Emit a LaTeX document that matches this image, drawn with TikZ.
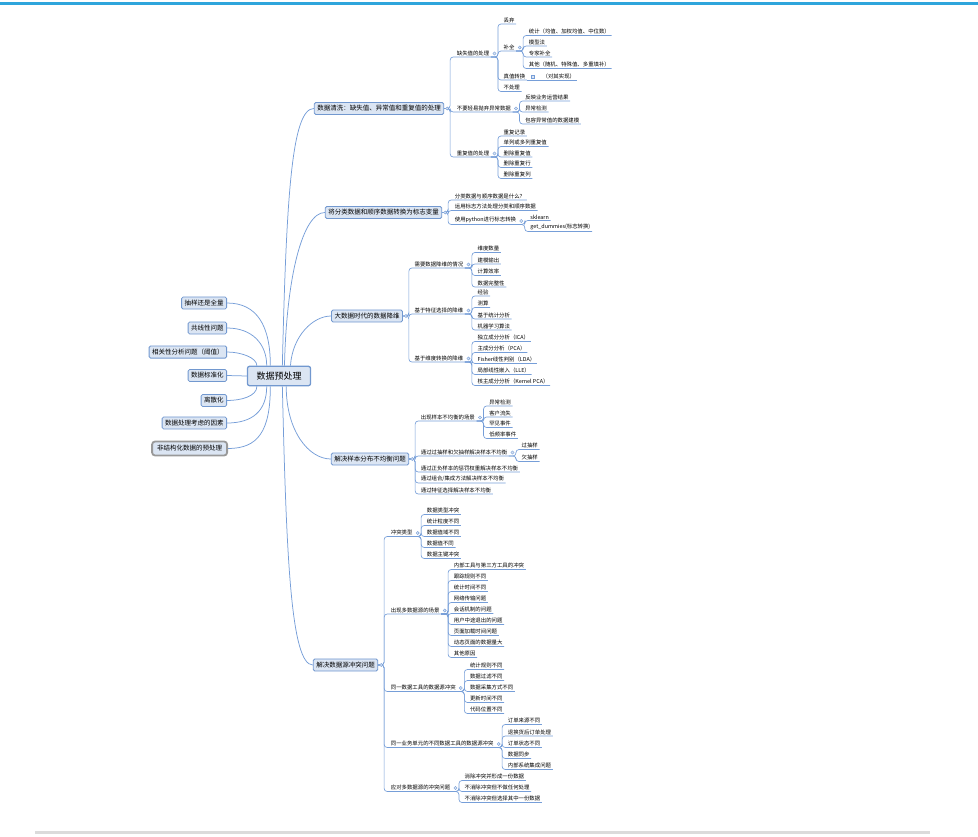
\documentclass[tikz,border=0pt]{standalone}
\usepackage{fontspec}
\setmainfont{Noto Sans CJK SC}
\usetikzlibrary{calc}
\definecolor{linkblue}{RGB}{118,158,216}
\definecolor{boxfill}{RGB}{219,229,243}
\definecolor{boxline}{RGB}{114,152,207}
\definecolor{barblue}{RGB}{46,165,220}

\begin{document}
\begin{tikzpicture}
[x=1pt,y=-1pt,
 root/.style={draw=boxline,fill=boxfill,line width=1.3pt,rounded corners=2pt,
   font=\fontsize{9}{10}\selectfont,inner xsep=9pt,inner ysep=5.5pt},
 topic/.style={draw=boxline,fill=boxfill,line width=0.8pt,rounded corners=1.5pt,
   font=\fontsize{6.5}{7}\selectfont,inner xsep=3pt,inner ysep=3pt},
 sub/.style={font=\fontsize{5.4}{6}\selectfont,anchor=south west,inner xsep=1.5pt,inner ysep=1.2pt},
 conn/.style={draw=linkblue,line width=0.65pt,rounded corners=3pt},
 curve/.style={draw=linkblue,line width=0.75pt},
 knob/.style={circle,draw=linkblue,fill=boxfill,line width=0.4pt,inner sep=0pt,minimum size=3.2pt},
]
\useasboundingbox (0,0) rectangle (978,836);
\fill[barblue] (0,2) rectangle (978,5);
\fill[black!14] (35,831) rectangle (930,834);

% centre
\node[root] (root) at (279,376) {数据预处理};

% left topics
\node[topic,anchor=east] (l1) at (227,303) {抽样还是全量};
\node[topic,anchor=east] (l2) at (227,328) {共线性问题};
\node[topic,anchor=east] (l3) at (227,352) {相关性分析问题（阈值）};
\node[topic,anchor=east] (l4) at (227,375.5) {数据标准化};
\node[topic,anchor=east] (l5) at (227,400.5) {离散化};
\node[topic,anchor=east] (l6) at (227,423) {数据处理考虑的因素};
\node[topic,anchor=east,draw=black!40,line width=1.8pt,rounded corners=3pt,inner xsep=5pt,inner ysep=4pt] (l7) at (228,448.5) {非结构化数据的预处理};

\draw[curve] (root.130) .. controls +(0,-40) and +(30,0) .. (l1.east);
\draw[curve] (root.140) .. controls +(0,-22) and +(25,0) .. (l2.east);
\draw[curve] (root.155) .. controls +(0,-8) and +(14,0) .. (l3.east);
\draw[curve] (root.west) -- (l4.east);
\draw[curve] (root.-155) .. controls +(0,10) and +(14,0) .. (l5.east);
\draw[curve] (root.-140) .. controls +(0,25) and +(25,0) .. (l6.east);
\draw[curve] (root.-130) .. controls +(0,45) and +(30,0) .. (l7.east);

% right topics
\node[topic] (t1) at (379,108.5) {数据清洗：缺失值、异常值和重复值的处理};
\node[topic] (t2) at (383.5,212.5) {将分类数据和顺序数据转换为标志变量};
\node[topic] (t3) at (367,316) {大数据时代的数据降维};
\node[topic] (t4) at (370,459) {解决样本分布不均衡问题};
\node[topic] (t5) at (345.5,665) {解决数据源冲突问题};

\draw[curve] (root.72) .. controls +(4,-170) and +(-22,0) .. (t1.west);
\draw[curve] (root.62) .. controls +(2,-90) and +(-22,0) .. (t2.west);
\draw[curve] (root.42) .. controls +(2,-30) and +(-18,0) .. (t3.west);
\draw[curve] (root.-55) .. controls +(0,45) and +(-22,0) .. (t4.west);
\draw[curve] (root.-72) .. controls +(4,170) and +(-22,0) .. (t5.west);

% branch 1
\coordinate (c1) at ($(t1.east)+(11,0)$);
\foreach \nm/\yy/\txt in {s11/57/缺失值的处理, s12/112/不要轻易抛弃异常数据, s13/157/重复值的处理}
{
\node[sub] (\nm) at (c1 |- 0,\yy) {\txt};
\draw[conn] (t1.east) -- ++(6,0) |- (\nm.south east);
}
\coordinate (c11) at ($(s11.south east)+(11,0)$);
\foreach \nm/\yy/\txt in {a1/24/丢弃, a2/51/补全, a3/80/真值转换, a4/91.5/不处理}
{
\node[sub] (\nm) at (c11 |- 0,\yy) {\txt};
\draw[conn] (s11.south east) -- ++(7,0) |- (\nm.south east);
}
\node[sub] (a3n) at ($(a3.south east)+(14,0)$) {（对其实现）};
\draw[conn] (a3.south east) -- (a3n.south east);
\node[knob,rectangle,minimum size=3pt] (a3k) at ($(a3.south east)+(6,-3.5)$) {};
\coordinate (c12) at ($(a2.south east)+(11,0)$);
\foreach \nm/\yy/\txt in {b1/35.5/统计（均值、加权均值、中位数）, b2/46/模型法, b3/57/专家补全, b4/68.5/其他（随机、特殊值、多重填补）}
{
\node[sub] (\nm) at (c12 |- 0,\yy) {\txt};
\draw[conn] (a2.south east) -- ++(7,0) |- (\nm.south east);
}
\coordinate (c13) at ($(s12.south east)+(11,0)$);
\foreach \nm/\yy/\txt in {d1/101/反映业务运营结果, d2/112/异常检测, d3/124/包容异常值的数据建模}
{
\node[sub] (\nm) at (c13 |- 0,\yy) {\txt};
\draw[conn] (s12.south east) -- ++(7,0) |- (\nm.south east);
}
\coordinate (c14) at ($(s13.south east)+(11,0)$);
\foreach \nm/\yy/\txt in {e1/136/重复记录, e2/146.5/单列或多列重复值, e3/157/删除重复值, e4/167.5/删除重复行, e5/178.5/删除重复列}
{
\node[sub] (\nm) at (c14 |- 0,\yy) {\txt};
\draw[conn] (s13.south east) -- ++(7,0) |- (\nm.south east);
}

% branch 2
\coordinate (c2) at ($(t2.east)+(11,0)$);
\foreach \nm/\yy/\txt in {q1/200/分类数据与顺序数据是什么？, q2/210.5/运用标志方法处理分类和顺序数据, q3/224.5/使用python进行标志转换}
{
\node[sub] (\nm) at (c2 |- 0,\yy) {\txt};
\draw[conn] (t2.east) -- ++(6,0) |- (\nm.south east);
}
\coordinate (c21) at ($(q3.south east)+(11,0)$);
\foreach \nm/\yy/\txt in {g1/220.5/sklearn, g2/231.5/get\_dummies(标志转换)}
{
\node[sub] (\nm) at (c21 |- 0,\yy) {\txt};
\draw[conn] (q3.south east) -- ++(7,0) |- (\nm.south east);
}

% branch 3
\coordinate (c3) at ($(t3.east)+(10,0)$);
\foreach \nm/\yy/\txt in {r1/268/需要数据降维的情况, r2/314/基于特征选择的降维, r3/362/基于维度转换的降维}
{
\node[sub] (\nm) at (c3 |- 0,\yy) {\txt};
\draw[conn] (t3.east) -- ++(6,0) |- (\nm.south east);
}
\coordinate (c31) at ($(r1.south east)+(11,0)$);
\foreach \nm/\yy/\txt in {h1/252.5/维度数量, h2/264/建模输出, h3/275.5/计算效率, h4/287/数据完整性}
{
\node[sub] (\nm) at (c31 |- 0,\yy) {\txt};
\draw[conn] (r1.south east) -- ++(7,0) |- (\nm.south east);
}
\coordinate (c32) at ($(r2.south east)+(11,0)$);
\foreach \nm/\yy/\txt in {i1/296/经验, i2/307.5/测算, i3/319/基于统计分析, i4/330/机器学习算法}
{
\node[sub] (\nm) at (c32 |- 0,\yy) {\txt};
\draw[conn] (r2.south east) -- ++(7,0) |- (\nm.south east);
}
\coordinate (c33) at ($(r3.south east)+(11,0)$);
\foreach \nm/\yy/\txt in {j1/341.5/独立成分分析（ICA）, j2/352.5/主成分分析（PCA）, j3/363.5/Fisher线性判别（LDA）, j4/374.5/局部线性嵌入（LLE）, j5/385.5/核主成分分析（Kernel PCA）}
{
\node[sub] (\nm) at (c33 |- 0,\yy) {\txt};
\draw[conn] (r3.south east) -- ++(7,0) |- (\nm.south east);
}

% branch 4
\coordinate (c4) at ($(t4.east)+(10,0)$);
\foreach \nm/\yy/\txt in {u1/421/出现样本不均衡的场景, u2/456/通过过抽样和欠抽样解决样本不均衡, u3/472/通过正负样本的惩罚权重解决样本不均衡, u4/483/{通过组合/集成方法解决样本不均衡}, u5/494/通过特征选择解决样本不均衡}
{
\node[sub] (\nm) at (c4 |- 0,\yy) {\txt};
\draw[conn] (t4.east) -- ++(6,0) |- (\nm.south east);
}
\coordinate (c41) at ($(u1.south east)+(11,0)$);
\foreach \nm/\yy/\txt in {m1/406/异常检测, m2/417/客户流失, m3/427.5/罕见事件, m4/438.5/低频率事件}
{
\node[sub] (\nm) at (c41 |- 0,\yy) {\txt};
\draw[conn] (u1.south east) -- ++(7,0) |- (\nm.south east);
}
\coordinate (c42) at ($(u2.south east)+(11,0)$);
\foreach \nm/\yy/\txt in {o1/449.5/过抽样, o2/461.5/欠抽样}
{
\node[sub] (\nm) at (c42 |- 0,\yy) {\txt};
\draw[conn] (u2.south east) -- ++(7,0) |- (\nm.south east);
}

% branch 5
\coordinate (c5) at ($(t5.east)+(11,0)$);
\foreach \nm/\yy/\txt in {v1/536.5/冲突类型, v2/614/出现多数据源的场景, v3/691.5/同一数据工具的数据源冲突, v4/747.5/同一业务单元的不同数据工具的数据源冲突, v5/791.5/应对多数据源的冲突问题}
{
\node[sub] (\nm) at (c5 |- 0,\yy) {\txt};
\draw[conn] (t5.east) -- ++(6,0) |- (\nm.south east);
}
\coordinate (c51) at ($(v1.south east)+(11,0)$);
\foreach \nm/\yy/\txt in {w1/514.5/数据类型冲突, w2/525.5/统计粒度不同, w3/536.5/数据值域不同, w4/547.5/数据值不同, w5/558.5/数据主键冲突}
{
\node[sub] (\nm) at (c51 |- 0,\yy) {\txt};
\draw[conn] (v1.south east) -- ++(7,0) |- (\nm.south east);
}
\coordinate (c52) at ($(v2.south east)+(11,0)$);
\foreach \nm/\yy/\txt in {x1/569.5/内部工具与第三方工具的冲突, x2/580.5/跟踪规则不同, x3/591.5/统计时间不同, x4/602.5/网络传输问题, x5/613.5/会话机制的问题, x6/624.5/用户中途退出的问题, x7/635.5/页面加载时间问题, x8/646.5/动态页面的数据量大, x9/657.5/其他原因}
{
\node[sub] (\nm) at (c52 |- 0,\yy) {\txt};
\draw[conn] (v2.south east) -- ++(7,0) |- (\nm.south east);
}
\coordinate (c53) at ($(v3.south east)+(11,0)$);
\foreach \nm/\yy/\txt in {y1/669.5/统计规则不同, y2/680.5/数据过滤不同, y3/691.5/数据采集方式不同, y4/702.5/更新时间不同, y5/713.5/代码位置不同}
{
\node[sub] (\nm) at (c53 |- 0,\yy) {\txt};
\draw[conn] (v3.south east) -- ++(7,0) |- (\nm.south east);
}
\coordinate (c54) at ($(v4.south east)+(11,0)$);
\foreach \nm/\yy/\txt in {z1/724.5/订单来源不同, z2/736/退换货后订单处理, z3/747.5/订单状态不同, z4/758.5/数据同步, z5/769.5/内部系统集成问题}
{
\node[sub] (\nm) at (c54 |- 0,\yy) {\txt};
\draw[conn] (v4.south east) -- ++(7,0) |- (\nm.south east);
}
\coordinate (c55) at ($(v5.south east)+(11,0)$);
\foreach \nm/\yy/\txt in {p1/780.5/消除冲突并形成一份数据, p2/791.5/不消除冲突但不做任何处理, p3/802.5/不消除冲突但选择其中一份数据}
{
\node[sub] (\nm) at (c55 |- 0,\yy) {\txt};
\draw[conn] (v5.south east) -- ++(7,0) |- (\nm.south east);
}

% knobs
\foreach \s in {t1,t2,t3,t4,t5}
{\node[knob] (k\s) at ($(\s.east)+(3,0)$) {};}
\foreach \s in {s11,a2,s12,s13,q3,r1,r2,r3,u1,u2,v1,v2,v3,v4,v5}
{\node[knob] (k\s) at ($(\s.south east)+(3.5,-3.5)$) {};}
\end{tikzpicture}
\end{document}
